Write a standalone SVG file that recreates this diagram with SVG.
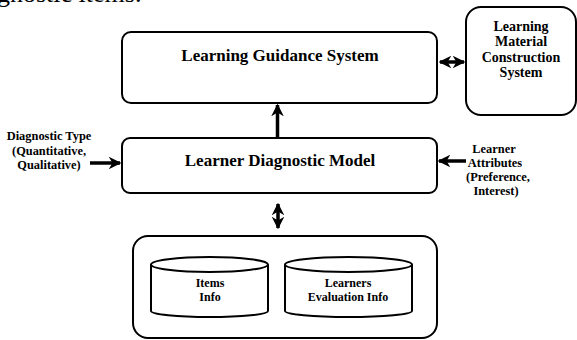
<svg xmlns="http://www.w3.org/2000/svg" width="577" height="340" viewBox="0 0 577 340">
<style>
.box{fill:#fff;stroke:#000;stroke-width:2}
.t{font-family:"Liberation Serif","Times New Roman",serif;font-weight:bold;fill:#000;text-anchor:middle}
.big{font-size:17px}
.sm{font-size:12.4px}
.md{font-size:12px}
.lm{font-size:14px}
.c{stroke:#000;stroke-width:3.5;fill:none}
</style>
<defs>
<marker id="ah" viewBox="0 0 10 10" refX="9" refY="5" markerWidth="3.6" markerHeight="3.6" orient="auto-start-reverse" markerUnits="strokeWidth">
<path d="M0,0 L10,5 L0,10 L3,5 Z" fill="#000"/>
</marker>
</defs>
<text x="-3" y="2" style="font-family:'Liberation Serif','Times New Roman',serif;font-size:26px;fill:#000">gnostic items.</text>
<g id="lgs">
<rect class="box" x="122" y="32" width="315" height="71" rx="9"/>
<text class="t big" x="280" y="61">Learning Guidance System</text>
</g>
<g id="lmcs">
<rect class="box" x="466" y="7" width="110" height="108" rx="15"/>
<text class="t lm" x="521" y="31">Learning</text>
<text class="t lm" x="521" y="46">Material</text>
<text class="t lm" x="521" y="62">Construction</text>
<text class="t lm" x="521" y="77">System</text>
</g>
<g id="ldm">
<rect class="box" x="122" y="138" width="315" height="55" rx="8"/>
<text class="t big" x="280" y="166">Learner Diagnostic Model</text>
</g>
<g id="dtype">
<text class="t sm" x="49" y="140">Diagnostic Type</text>
<text class="t sm" x="49" y="155">(Quantitative,</text>
<text class="t sm" x="49" y="169">Qualitative)</text>
</g>
<g id="lattr">
<text class="t sm" x="494" y="153">Learner</text>
<text class="t sm" x="495" y="167">Attributes</text>
<text class="t sm" x="498" y="181">(Preference,</text>
<text class="t sm" x="496" y="195">Interest)</text>
</g>
<g id="db">
<rect class="box" x="133" y="236" width="304" height="102" rx="15"/>
<g id="items">
<path class="box" d="M151,264.5 L151,311 A58.5,6 0 0 0 268,311 L268,264.5"/>
<ellipse class="box" cx="209.5" cy="264.5" rx="58.5" ry="7.5"/>
<text class="t md" x="210" y="287">Items</text>
<text class="t md" x="210" y="301">Info</text>
</g>
<g id="learners">
<path class="box" d="M285,264.5 L285,311 A63.5,6 0 0 0 412,311 L412,264.5"/>
<ellipse class="box" cx="348.5" cy="264.5" rx="63.5" ry="7.5"/>
<text class="t md" x="348" y="287">Learners</text>
<text class="t md" x="348" y="301">Evaluation Info</text>
</g>
</g>
<g id="connectors">
<line class="c" x1="277.5" y1="137" x2="277.5" y2="105" marker-end="url(#ah)"/>
<line class="c" x1="440" y1="62" x2="464" y2="62" marker-start="url(#ah)" marker-end="url(#ah)"/>
<line class="c" x1="90" y1="163" x2="120" y2="163" marker-end="url(#ah)"/>
<line class="c" x1="466" y1="161" x2="439" y2="161" marker-end="url(#ah)"/>
<line class="c" x1="278" y1="204" x2="278" y2="228" marker-start="url(#ah)" marker-end="url(#ah)"/>
</g>
</svg>
